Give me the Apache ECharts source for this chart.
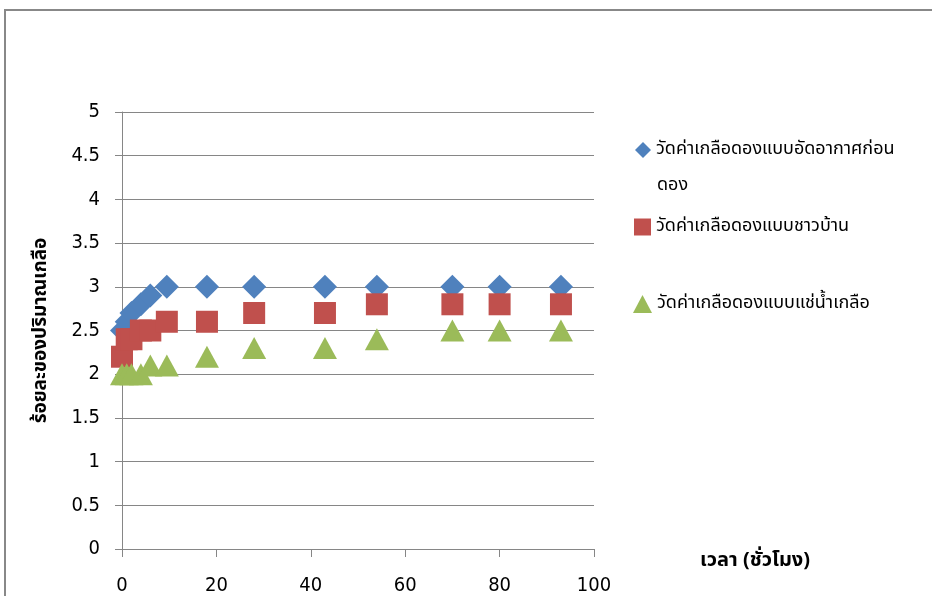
<!DOCTYPE html>
<html>
<head>
<meta charset="utf-8">
<script src="https://cdn.jsdelivr.net/npm/echarts@6/dist/echarts.min.js"></script>
<style>html,body{margin:0;padding:0;background:#fff}#c{width:932px;height:596px}</style>
</head>
<body>
<div id="c"></div>
<script>
const hours = [0, 1, 2, 4, 6, 9.5, 18, 28, 43, 54, 70, 80, 93];
const vacuumSalt = [2.5, 2.6, 2.7, 2.8, 2.9, 3.0, 3.0, 3.0, 3.0, 3.0, 3.0, 3.0, 3.0];
const villageSalt = [2.2, 2.4, 2.4, 2.5, 2.5, 2.6, 2.6, 2.7, 2.7, 2.8, 2.8, 2.8, 2.8];
const brineSalt = [2.0, 2.0, 2.0, 2.0, 2.1, 2.1, 2.2, 2.3, 2.3, 2.4, 2.5, 2.5, 2.5];
const seriesNames = ['วัดค่าเกลือดองแบบอัดอากาศก่อนดอง', 'วัดค่าเกลือดองแบบชาวบ้าน', 'วัดค่าเกลือดองแบบแช่น้ำเกลือ'];
const xTitle = 'เวลา (ชั่วโมง)';
const yTitle = 'ร้อยละของปริมาณเกลือ';

const thaiFont = '"Noto Sans Thai", "Noto Sans", "DejaVu Sans", sans-serif';
const numFont = '"DejaVu Sans Condensed", "Liberation Sans", sans-serif';
const gridColor = '#868686';

function pairs(xs, ys) { return xs.map((x, i) => [x, ys[i]]); }

const chart = echarts.init(document.getElementById('c'));
const legendBase = {
  orient: 'vertical', left: 634, itemGap: 0, itemWidth: 17, itemHeight: 17, padding: 0,
  textStyle: { fontFamily: thaiFont, fontSize: 18, lineHeight: 20, color: '#000', padding: [0, 0, 0, 0] },
  selectedMode: false
};
chart.setOption({
  animation: false,
  graphic: [
    { type: 'rect', shape: { x: 5, y: 10, width: 1000, height: 700 }, style: { fill: 'none', stroke: '#888', lineWidth: 2 } },
    { type: 'text', left: 657, top: 177, style: { text: 'ดอง', font: '18px ' + thaiFont, fill: '#000' } }
  ],
  grid: { left: 122, top: 112, width: 472, height: 438, containLabel: false },
  legend: [
    Object.assign({}, legendBase, { top: 140, left: 635, itemWidth: 16, itemHeight: 16, data: [{ name: seriesNames[0], icon: 'diamond' }],
      formatter: n => n.replace(/ดอง$/, '') }),
    Object.assign({}, legendBase, { top: 217, data: [{ name: seriesNames[1], icon: 'rect' }] }),
    Object.assign({}, legendBase, { top: 294, left: 633, itemWidth: 19, itemHeight: 18, data: [{ name: seriesNames[2], icon: 'triangle' }] })
  ],
  xAxis: {
    type: 'value', min: 0, max: 100, interval: 20,
    name: xTitle, nameLocation: 'end', nameGap: 106,
    nameTextStyle: { fontFamily: thaiFont, fontSize: 20, fontWeight: 'bold', color: '#000', align: 'left', verticalAlign: 'top', padding: [3, 0, 0, 0] },
    axisLine: { show: true, lineStyle: { color: gridColor, width: 1 } },
    axisTick: { show: true, inside: false, length: 8, lineStyle: { color: gridColor } },
    axisLabel: { fontFamily: numFont, fontSize: 20, color: '#000', margin: 27 },
    splitLine: { show: false }
  },
  yAxis: {
    type: 'value', min: 0, max: 5, interval: 0.5,
    name: yTitle, nameLocation: 'middle', nameGap: 70, nameRotate: 90,
    nameTextStyle: { fontFamily: thaiFont, fontSize: 19, fontWeight: 'bold', color: '#000' },
    axisLine: { show: true, lineStyle: { color: gridColor, width: 1 } },
    axisTick: { show: true, inside: false, length: 7, lineStyle: { color: gridColor } },
    axisLabel: { fontFamily: numFont, fontSize: 20, color: '#000', margin: 22 },
    splitLine: { show: true, lineStyle: { color: gridColor, width: 1 } }
  },
  series: [
    { name: seriesNames[0], type: 'scatter', symbol: 'diamond', symbolSize: [24, 24], data: pairs(hours, vacuumSalt), itemStyle: { color: '#4F81BD', opacity: 1 } },
    { name: seriesNames[1], type: 'scatter', symbol: 'rect', symbolSize: [22, 22], data: pairs(hours, villageSalt), itemStyle: { color: '#C0504D', opacity: 1 } },
    { name: seriesNames[2], type: 'scatter', symbol: 'triangle', symbolSize: [24, 22], data: pairs(hours, brineSalt), itemStyle: { color: '#9BBB59', opacity: 1 } }
  ]
});
</script>
</body>
</html>
